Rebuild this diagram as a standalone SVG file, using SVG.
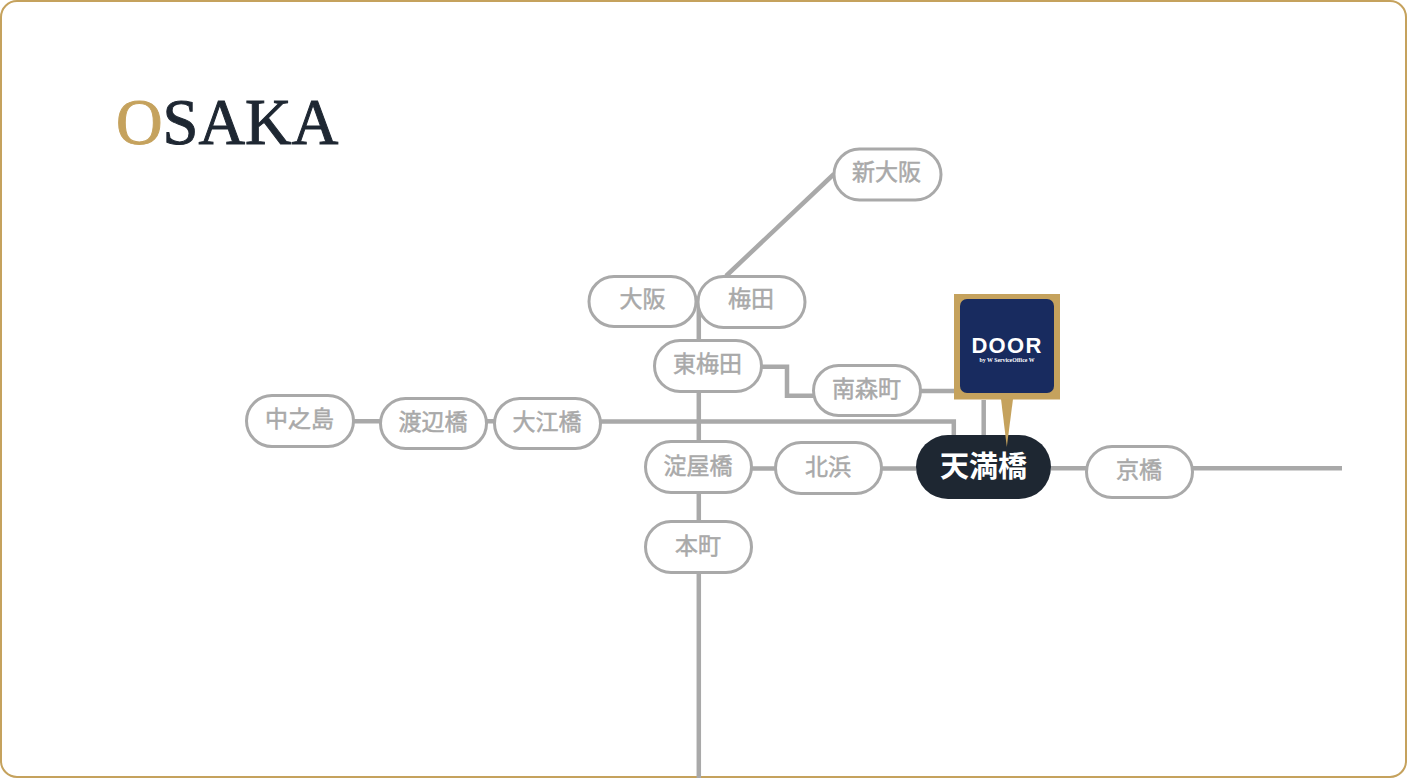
<svg xmlns="http://www.w3.org/2000/svg" width="1407" height="782" viewBox="0 0 1407 782">
<style>
.st rect{fill:#fff;stroke:#a9a9a9;stroke-width:3}
.st text{font-family:"Noto Sans CJK JP","Noto Sans",sans-serif;font-size:23px;font-weight:400;fill:#a9a9a9;stroke:#a9a9a9;stroke-width:0.500;text-anchor:middle}
#connectors path{fill:none;stroke:#a9a9a9;stroke-width:4.500}
</style>
<rect width="1407" height="782" fill="#fff"/>
<rect id="frame" x="1" y="1" width="1405" height="776" rx="16" fill="#fff" stroke="#c5a25d" stroke-width="2"/>
<text id="title" x="116" y="144" font-family="'Liberation Serif',serif" font-size="64.500" fill="#1e2732" stroke="#1e2732" stroke-width="1"><tspan fill="#c5a25d" stroke="#c5a25d">O</tspan>SAKA</text>
<g id="connectors">
<path d="M698.800 300V778"/>
<path d="M726 276L834 174"/>
<path d="M600 421.500H953.800V436"/>
<path d="M354 421.300H380M487 421.300H494"/>
<path d="M761 366.700H787V395.700H813"/>
<path d="M920 391H954"/>
<path d="M983.700 400V436"/>
<path d="M752 468.500H775"/>
<path d="M882 468.500H916"/>
<path d="M1051 468.300H1086M1193 468.300H1342"/>
</g>
<g id="n-shinosaka" class="st"><rect x="834" y="149" width="107" height="51" rx="25.500"/><text x="886.500" y="180">新大阪</text></g>
<g id="n-osaka" class="st"><rect x="589" y="276.500" width="107" height="50" rx="25"/><text x="642.500" y="307">大阪</text></g>
<g id="n-umeda" class="st"><rect x="698" y="276.500" width="107" height="51" rx="25.500"/><text x="751" y="307">梅田</text></g>
<g id="n-higashiumeda" class="st"><rect x="654.500" y="340.500" width="107" height="51" rx="25.500"/><text x="707.500" y="372">東梅田</text></g>
<g id="n-minamimorimachi" class="st"><rect x="813.500" y="365.500" width="107" height="50" rx="25"/><text x="866.500" y="396.500">南森町</text></g>
<g id="n-nakanoshima" class="st"><rect x="246.500" y="395.500" width="107" height="51" rx="25.500"/><text x="299.500" y="426.500">中之島</text></g>
<g id="n-watanabebashi" class="st"><rect x="380.500" y="398.500" width="106" height="50" rx="25"/><text x="433" y="429.500">渡辺橋</text></g>
<g id="n-oebashi" class="st"><rect x="494.500" y="398.500" width="106" height="50" rx="25"/><text x="547" y="429.500">大江橋</text></g>
<g id="n-yodoyabashi" class="st"><rect x="645.500" y="441.500" width="106" height="51" rx="25.500"/><text x="698" y="473.500">淀屋橋</text></g>
<g id="n-kitahama" class="st"><rect x="775.500" y="442.500" width="106" height="51" rx="25.500"/><text x="828" y="474.500">北浜</text></g>
<g id="n-tenmabashi"><rect x="916" y="435" width="135" height="64" rx="32" fill="#1e2732"/><text x="983.500" y="477" font-family="'Noto Sans CJK JP',sans-serif" font-size="29" font-weight="700" fill="#fff" text-anchor="middle">天満橋</text></g>
<g id="n-kyobashi" class="st"><rect x="1086.500" y="446.500" width="106" height="51" rx="25.500"/><text x="1139" y="477.500">京橋</text></g>
<g id="n-honmachi" class="st"><rect x="645.500" y="521.500" width="106" height="51" rx="25.500"/><text x="698" y="553.500">本町</text></g>
<g id="pin">
<polygon points="1001,399 1013,399 1006.800,447" fill="#c5a25d"/>
<rect x="954" y="294" width="106" height="105.500" fill="#c5a25d"/>
<rect x="960" y="299" width="94" height="94" rx="7" fill="#182b5f"/>
<text x="1007" y="353" font-family="'Liberation Sans',sans-serif" font-size="22" font-weight="700" letter-spacing="1.300" fill="#fff" text-anchor="middle">DOOR</text>
<text x="1007" y="362" font-family="'Liberation Serif',serif" font-size="5.800" font-weight="700" fill="#fff" text-anchor="middle">by W ServiceOffice W</text>
</g>
</svg>
